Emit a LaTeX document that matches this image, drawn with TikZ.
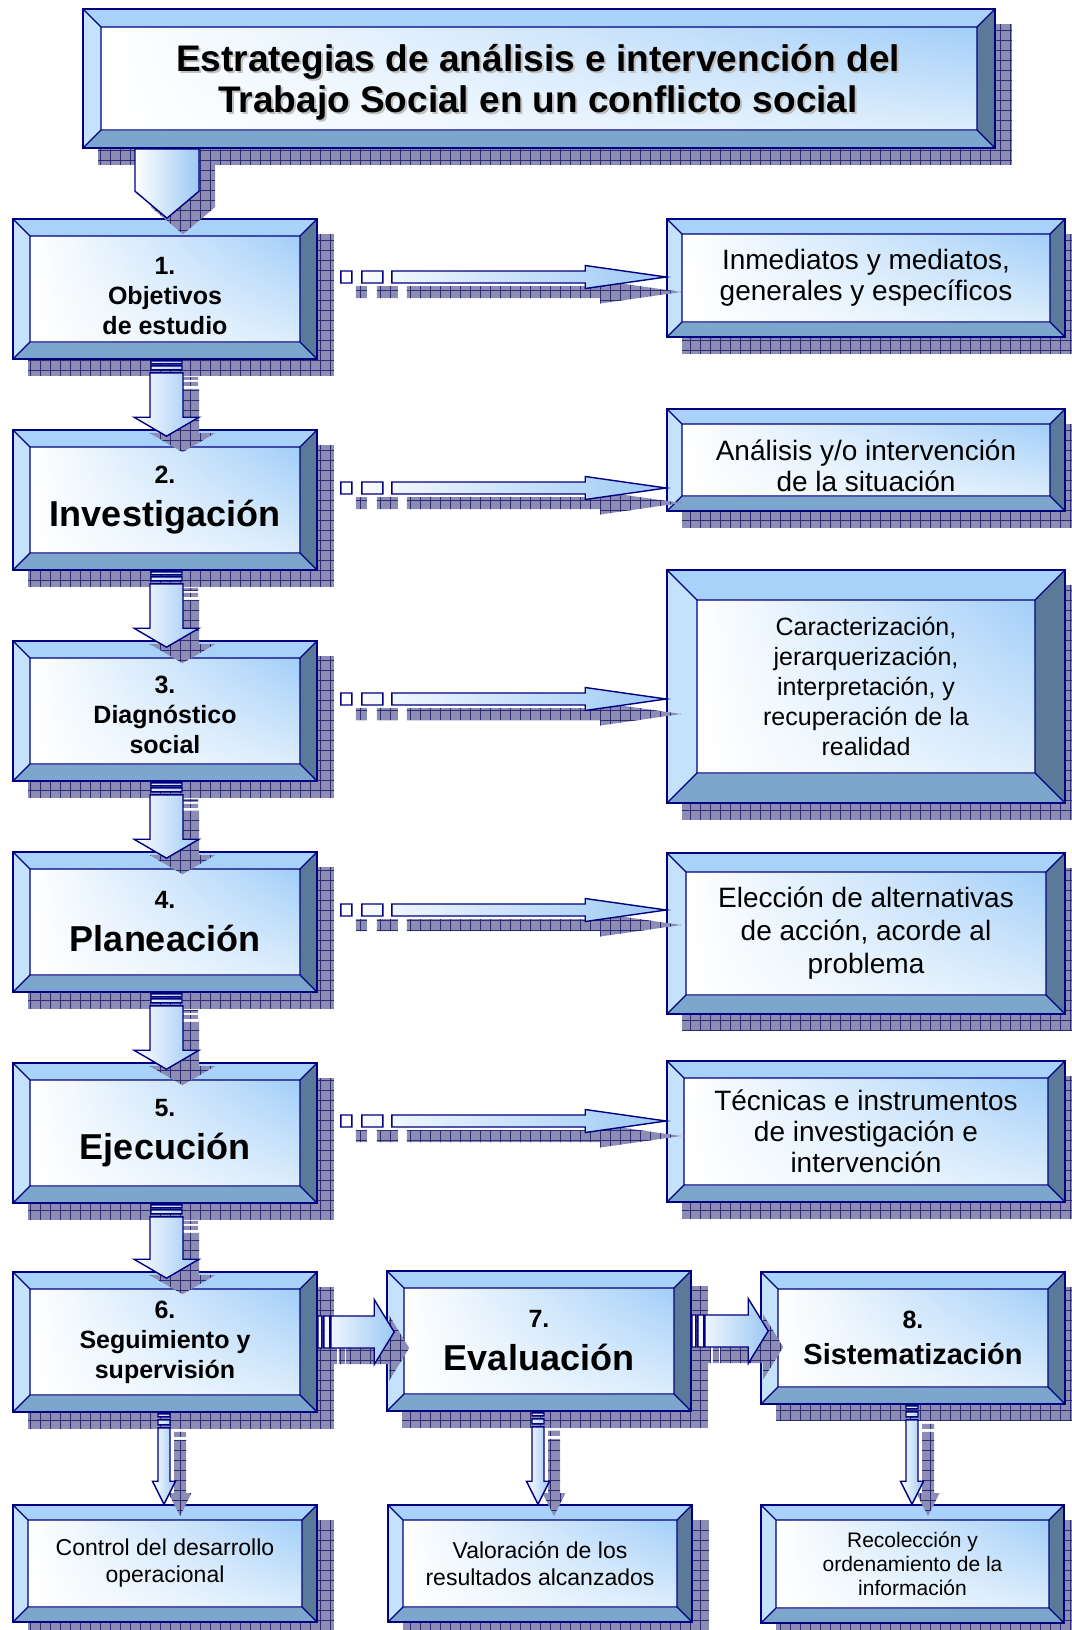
\documentclass[tikz,border=0pt]{standalone}
\usepackage{fontspec}
\setmainfont{Liberation Sans}
\usetikzlibrary{calc,backgrounds,shadings}
\definecolor{navyline}{HTML}{000080}
\definecolor{bevtop}{HTML}{A8D2FA}
\definecolor{bevleft}{HTML}{C4E2FC}
\definecolor{bevright}{HTML}{5B7A99}
\definecolor{bevbottom}{HTML}{7CA6CC}
\definecolor{faceblue}{HTML}{A2CEF8}
\definecolor{facepale}{HTML}{DCEDFC}
\definecolor{linkblue}{HTML}{9CC8F4}
\definecolor{shadowfill}{HTML}{8C8CB4}
\definecolor{shadowgrid}{HTML}{2C2C70}
\newcommand{\stagebig}{\fontsize{36}{40}\selectfont}
\newcommand{\lowerby}[1]{\rule{0pt}{#1}}
% bevelled frame, drawn inside the node
\newcommand{\bevelfill}[1]{%
  \coordinate (bnw) at (path picture bounding box.north west);
  \coordinate (bse) at (path picture bounding box.south east);
  \coordinate (bne) at (bse |- bnw);
  \coordinate (bsw) at (bnw |- bse);
  \coordinate (inw) at ($(bnw)+(#1,#1)$);
  \coordinate (ine) at ($(bne)+(-#1,#1)$);
  \coordinate (ise) at ($(bse)+(-#1,-#1)$);
  \coordinate (isw) at ($(bsw)+(#1,-#1)$);
  \fill[bevtop] (bnw) -- (bne) -- (ine) -- (inw) -- cycle;
  \fill[bevleft] (bnw) -- (inw) -- (isw) -- (bsw) -- cycle;
  \fill[bevright] (bne) -- (bse) -- (ise) -- (ine) -- cycle;
  \fill[bevbottom] (bsw) -- (isw) -- (ise) -- (bse) -- cycle;
  \shade[upper left=white, upper right=faceblue, lower left=white, lower right=facepale] (inw) rectangle (ise);
  \draw[navyline, line width=1.2pt] (inw) rectangle (ise) (bnw) -- (inw) (bne) -- (ine) (bse) -- (ise) (bsw) -- (isw);}
\newcommand{\boxshadow}[1]{%
  \begin{scope}[on background layer]
    \path[gridfill] ($(#1.north west)+(16,16)$) rectangle ($(#1.south east)+(16,16)$);
  \end{scope}}
% connectors: #3 x shift, #4 y shift (down), #5 options
\newcommand{\titlelinkpath}[5]{%
  \path[#5] let \p1=(#1.south), \p2=(#2.north),
    \p3=(\x2+2pt+#3,\y1-#4), \p4=(\x3,\y2-#4) in
    (\x3-32pt,\y3) -- (\x3+32pt,\y3) -- (\x3+32pt,\y4+27pt) -- (\x4,\y4)
    -- (\x3-32pt,\y4+27pt) -- cycle;}
\newcommand{\stagelinkpath}[5]{%
  \path[#5] let \p1=(#1.south), \p2=(#2.north),
    \p3=(\x1+1.5pt+#3,\y1-#4), \p4=(\x3,\y2-#4) in
    (\x3-15.5pt,\y3-1pt) rectangle (\x3+15.5pt,\y3-4pt)
    (\x3-15.5pt,\y3-6pt) rectangle (\x3+15.5pt,\y3-10pt)
    (\x3-16.5pt,\y3-13pt) -- (\x3+16.5pt,\y3-13pt) -- (\x3+16.5pt,\y4+12pt)
    -- (\x3+32.5pt,\y4+12pt) -- (\x4,\y4-7pt) -- (\x3-32.5pt,\y4+12pt)
    -- (\x3-16.5pt,\y4+12pt) -- cycle;}
\newcommand{\notelinkpath}[5]{%
  \path[#5] let \p1=(#1.east), \p2=(#2.west),
    \p3=(\x1+#3,\y1+12pt-#4), \p4=(\x2+#3,\y3) in
    (\x3+23pt,\y3+6pt) rectangle (\x3+34pt,\y3-6pt)
    (\x3+44pt,\y3+6pt) rectangle (\x3+65pt,\y3-6pt)
    (\x3+74pt,\y3+6pt) -- (\x4-81pt,\y3+6pt) -- (\x4-81pt,\y3+11.5pt) -- (\x4,\y3)
    -- (\x4-81pt,\y3-11.5pt) -- (\x4-81pt,\y3-6pt) -- (\x3+74pt,\y3-6pt) -- cycle;}
\newcommand{\flowlinkpath}[5]{%
  \path[#5] let \p1=(#1.east), \p2=(#2.west),
    \p3=(\x1+#3,\y1+10pt-#4), \p4=(\x2+8pt+#3,\y3) in
    (\x3,\y3+16pt) rectangle (\x3+4pt,\y3-16pt)
    (\x3+6pt,\y3+16pt) rectangle (\x3+12pt,\y3-16pt)
    (\x3+13pt,\y3+16pt) -- (\x4-20pt,\y3+16pt) -- (\x4-20pt,\y3+32.5pt) -- (\x4,\y3)
    -- (\x4-20pt,\y3-32.5pt) -- (\x4-20pt,\y3-16pt) -- (\x3+13pt,\y3-16pt) -- cycle;}
\newcommand{\leaflinkpath}[5]{%
  \path[#5] let \p1=(#1.south), \p2=(#2.north),
    \p3=(\x1-1pt+#3,\y1-#4), \p4=(\x3,\y2-#4) in
    (\x3-6pt,\y3-1pt) rectangle (\x3+6pt,\y3-4pt)
    (\x3-6pt,\y3-7pt) rectangle (\x3+6pt,\y3-12pt)
    (\x3-6pt,\y3-15pt) -- (\x3+6pt,\y3-15pt) -- (\x3+6pt,\y4+23pt) -- (\x3+11.5pt,\y4+23pt)
    -- (\x4,\y4) -- (\x3-11.5pt,\y4+23pt) -- (\x3-6pt,\y4+23pt) -- cycle;}
\newcommand{\titlelink}[2]{\titlelinkpath{#1}{#2}{16pt}{16pt}{gridfill}\titlelinkpath{#1}{#2}{0pt}{0pt}{linkbody}}
\newcommand{\stagelink}[2]{\stagelinkpath{#1}{#2}{16pt}{16pt}{gridfill}\stagelinkpath{#1}{#2}{0pt}{0pt}{linkbody}}
\newcommand{\notelink}[2]{\notelinkpath{#1}{#2}{15pt}{15pt}{gridfill}\notelinkpath{#1}{#2}{0pt}{0pt}{linkbody}}
\newcommand{\flowlink}[2]{\flowlinkpath{#1}{#2}{15pt}{16pt}{gridfill}\flowlinkpath{#1}{#2}{0pt}{0pt}{linkbody}}
\newcommand{\leaflink}[2]{\leaflinkpath{#1}{#2}{16pt}{12pt}{gridfill}\leaflinkpath{#1}{#2}{0pt}{0pt}{linkbody}}
\tikzset{
  gridfill/.style={fill=shadowfill, path picture={\draw[shadowgrid, line width=0.7pt, step=10pt]
    (path picture bounding box.south west) grid (path picture bounding box.north east);}},
  bevbox/.style={rectangle, draw=navyline, line width=1.6pt, inner sep=0pt, align=center,
    path picture={\bevelfill{#1}}},
  bevbox/.default=17,
  titlebox/.style={bevbox=18, minimum width=912pt, minimum height=139pt},
  titlefont/.style={font=\bfseries\fontsize{37}{41}\selectfont, align=center},
  stagebox/.style={bevbox=17, minimum width=304pt, minimum height=140pt,
    font=\bfseries\fontsize{25}{30}\selectfont},
  notebox/.style={bevbox=15, minimum width=398pt, font=\fontsize{28}{31}\selectfont},
  leafbox/.style={bevbox=15, minimum width=304pt, minimum height=117pt,
    font=\fontsize{23}{27}\selectfont},
  linkbody/.style={draw=navyline, line width=1.4pt, left color=white, right color=linkblue},
}
\begin{document}
\begin{tikzpicture}[x=1pt, y=-1pt]
\path[use as bounding box, clip] (0,0) rectangle (1071,1630);
% title
\node[titlebox] (title) at (539,78.5) {};
\node[titlefont, text=black!25] (titleshade) at ($(title.center)+(1,6)$)
  {Estrategias de análisis e intervención del\\Trabajo Social en un conflicto social};
\node[titlefont] (titletext) at ($(title.center)+(-1,4)$)
  {Estrategias de análisis e intervención del\\Trabajo Social en un conflicto social};
\boxshadow{title}
% stages
\node[stagebox] (s1) at (165,289) {\lowerby{32pt}1.\\Objetivos\\de estudio};
\node[stagebox] (s2) at (165,500) {2.\\[13pt]\stagebig Investigación};
\node[stagebox] (s3) at (165,711) {\lowerby{26pt}3.\\Diagnóstico\\social};
\node[stagebox] (s4) at (165,922) {4.\\[13pt]\stagebig Planeación};
\node[stagebox] (s5) at (165,1133) {5.\\[13pt]\stagebig Ejecución};
\node[stagebox] (s6) at (165,1342) {6.\\Seguimiento y\\supervisión};
\node[stagebox] (s7) at (539,1341) {7.\\[13pt]\stagebig Evaluación};
\node[stagebox, minimum height=132pt] (s8) at (913,1338)
  {8.\\[6pt]\fontsize{29}{33}\selectfont Sistematización};
\foreach \n in {s1,s2,s3,s4,s5,s6,s7,s8} {\boxshadow{\n}}
% notes
\node[notebox, minimum height=118pt] (r1) at (866,278) {Inmediatos y mediatos,\\generales y específicos};
\node[notebox, minimum height=102pt] (r2) at (866,460) {\lowerby{33pt}Análisis y/o intervención\\de la situación};
\node[notebox, bevbox=30, minimum height=233pt, font=\fontsize{25}{30}\selectfont] (r3) at (866,686.5)
  {Caracterización,\\jerarquerización,\\interpretación, y\\recuperación de la\\realidad};
\node[notebox, bevbox=19, minimum height=161pt, font=\fontsize{28}{33}\selectfont] (r4) at (866,933.5)
  {Elección de alternativas\\de acción, acorde al\\problema};
\node[notebox, bevbox=17, minimum height=141pt] (r5) at (866,1131.5) {Técnicas e instrumentos\\de investigación e\\intervención};
\foreach \n in {r1,r2,r3,r4,r5} {\boxshadow{\n}}
% results
\node[leafbox] (b6) at (165,1563.5) {Control del desarrollo\\operacional};
\node[leafbox] (b7) at (540,1563.5) {Valoración de los\\resultados alcanzados};
\node[leafbox, minimum width=303pt, minimum height=118pt, font=\fontsize{21}{24}\selectfont] (b8) at (912.5,1564)
  {Recolección y\\ordenamiento de la\\información};
\foreach \n in {b6,b7,b8} {\boxshadow{\n}}
% connectors
\titlelink{title}{s1}
\stagelink{s1}{s2}
\stagelink{s2}{s3}
\stagelink{s3}{s4}
\stagelink{s4}{s5}
\stagelink{s5}{s6}
\notelink{s1}{r1}
\notelink{s2}{r2}
\notelink{s3}{r3}
\notelink{s4}{r4}
\notelink{s5}{r5}
\flowlink{s6}{s7}
\flowlink{s7}{s8}
\leaflink{s6}{b6}
\leaflink{s7}{b7}
\leaflink{s8}{b8}
\end{tikzpicture}
\end{document}
